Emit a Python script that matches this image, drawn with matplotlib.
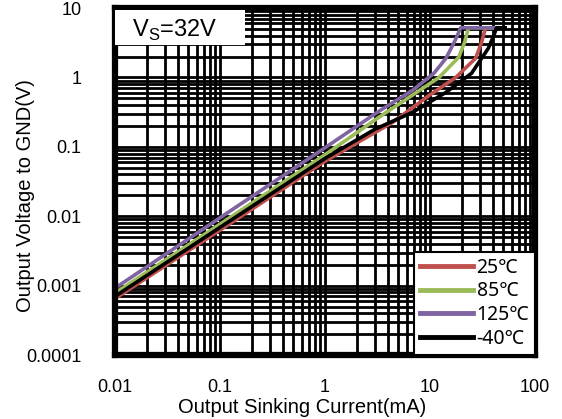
import matplotlib
matplotlib.use("Agg")
import matplotlib.pyplot as plt
from matplotlib.ticker import FixedLocator, FixedFormatter, LogLocator, NullFormatter

# ---- data ----
i_25 = [0.01, 0.1, 1, 4.4, 9.8, 17.6, 27.2, 31, 33.8, 42]
v_25 = [0.00065, 0.0063, 0.062, 0.225, 0.55, 1.0, 1.89, 3.2, 5.2, 5.2]

i_85 = [0.01, 0.1, 1, 3.3, 12.2, 18.8, 21.5, 23.3, 42]
v_85 = [0.00078, 0.0077, 0.077, 0.27, 1.0, 1.96, 3.3, 5.2, 5.2]

i_125 = [0.01, 0.1, 1, 3.3, 6.8, 10.9, 14.2, 17.5, 19.6, 42]
v_125 = [0.00092, 0.0095, 0.097, 0.33, 0.65, 1.15, 1.89, 3.5, 5.2, 5.2]

i_m40 = [0.01, 0.1, 1, 3, 6.8, 14.2, 24.9, 36, 41, 43, 52]
v_m40 = [0.0007, 0.0069, 0.068, 0.18, 0.314, 0.61, 1.15, 2.64, 4.2, 5.2, 5.2]

series_labels = ["25\u2103", "85\u2103", "125\u2103", "-40\u2103"]
series_colors = ["#C0504D", "#9BBB59", "#8064A2", "#000000"]

x_ticks = [0.01, 0.1, 1, 10, 100]
x_tick_labels = ["0.01", "0.1", "1", "10", "100"]
y_ticks = [0.0001, 0.001, 0.01, 0.1, 1, 10]
y_tick_labels = ["0.0001", "0.001", "0.01", "0.1", "1", "10"]

x_label = "Output Sinking Current(mA)"
y_label = "Output Voltage to GND(V)"
note = "V$_\\mathregular{S}$=32V"

plt.rcParams['font.family'] = ['Liberation Sans', 'DejaVu Sans']

fig = plt.figure(figsize=(5.62, 4.19), dpi=100)
ax = fig.add_axes([0.2046, 0.1527, 0.7473, 0.828])

ax.set_xscale('log')
ax.set_yscale('log')
ax.set_xlim(0.01, 100)
ax.set_ylim(0.0001, 10)

ax.xaxis.set_major_locator(FixedLocator(x_ticks))
ax.xaxis.set_major_formatter(FixedFormatter(x_tick_labels))
ax.yaxis.set_major_locator(FixedLocator(y_ticks))
ax.yaxis.set_major_formatter(FixedFormatter(y_tick_labels))
ax.xaxis.set_minor_locator(LogLocator(base=10, subs=range(2, 10), numticks=20))
ax.yaxis.set_minor_locator(LogLocator(base=10, subs=range(2, 10), numticks=20))
ax.xaxis.set_minor_formatter(NullFormatter())
ax.yaxis.set_minor_formatter(NullFormatter())

ax.grid(True, which='both', color='black', linewidth=2.0)
ax.set_axisbelow(True)
ax.tick_params(which='both', length=0)
ax.tick_params(axis='x', pad=17, labelsize=13)
ax.tick_params(axis='y', pad=24, labelsize=13)

for s in ax.spines.values():
    s.set_linewidth(4.5)
    s.set_color('black')

data = [(i_25, v_25), (i_85, v_85), (i_125, v_125), (i_m40, v_m40)]
for (xs, ys), lab, col in zip(data, series_labels, series_colors):
    ax.plot(xs, ys, color=col, linewidth=2.6, label=lab, solid_joinstyle='round')

leg = ax.legend(loc='lower right', frameon=True, fancybox=False,
                prop={'family': ['Noto Sans', 'Noto Sans CJK SC', 'DejaVu Sans'], 'size': 14},
                handlelength=2.7, handletextpad=0.2, borderpad=0.3, labelspacing=0.2,
                borderaxespad=0.0)
leg.get_frame().set_edgecolor('black')
leg.get_frame().set_linewidth(1.5)
leg.get_frame().set_facecolor('white')
leg.get_frame().set_alpha(1)
for h in leg.get_lines():
    h.set_linewidth(3.5)

ax.text(0.04, 0.972, note, transform=ax.transAxes, ha='left', va='top', fontsize=17,
        zorder=5)
ax.add_patch(plt.Rectangle((0.0, 0.895), 0.31, 0.1, transform=ax.transAxes,
                           facecolor='white', edgecolor='none', zorder=4))

ax.set_xlabel(x_label, fontsize=14.5, labelpad=-3)
ax.xaxis.set_label_coords(0.445, -0.125)
ax.set_ylabel(y_label, fontsize=14.5)
ax.yaxis.set_label_coords(-0.19, 0.46)

fig.savefig('out.png', dpi=100)
